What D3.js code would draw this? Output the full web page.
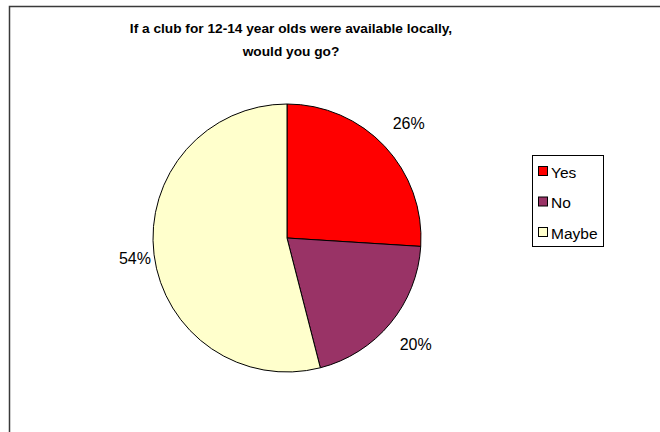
<!DOCTYPE html>
<html>
<head>
<meta charset="utf-8">
<script src="https://cdn.jsdelivr.net/npm/d3@7"></script>
<style>
  html, body { margin: 0; padding: 0; background: #fff; }
  svg { display: block; font-family: Arial, "Liberation Sans", sans-serif; }
</style>
</head>
<body>
<svg id="chart" width="660" height="432"></svg>
<script>
// Survey answers
const categories = ["Yes", "No", "Maybe"];
const percentages = [26, 20, 54];
const sliceColors = ["#FF0000", "#993366", "#FFFFCC"];
const titleLines = ["If a club for 12-14 year olds were available locally,", "would you go?"];

const svg = d3.select("#chart");

// Chart area frame
svg.append("rect")
  .attr("x", 9.5).attr("y", 6.5)
  .attr("width", 700).attr("height", 500)
  .attr("fill", "#fff")
  .attr("stroke", "#3a3a3a")
  .attr("stroke-width", 1.5);

// Title
const title = svg.append("text")
  .attr("text-anchor", "middle")
  .attr("font-weight", "bold")
  .attr("font-size", 13.7)
  .attr("fill", "#000");
titleLines.forEach((line, i) => {
  title.append("tspan").attr("x", 291).attr("y", 33 + i * 23).text(line);
});

// Pie
const cx = 287, cy = 238, radius = 134;
const color = d3.scaleOrdinal().domain(categories).range(sliceColors);
const pie = d3.pie().sort(null).value(d => d.value);
const arcs = pie(categories.map((c, i) => ({ name: c, value: percentages[i] })));
const arc = d3.arc().innerRadius(0).outerRadius(radius);

const g = svg.append("g").attr("transform", `translate(${cx},${cy})`);
g.selectAll("path")
  .data(arcs)
  .join("path")
  .attr("d", arc)
  .attr("fill", d => color(d.data.name))
  .attr("stroke", "#000")
  .attr("stroke-width", 1)
  .attr("stroke-linejoin", "round");

// Percentage labels outside the slices; a label never sits further out
// horizontally than just beyond the pie edge
const labelRadius = radius + 33;
const labels = g.selectAll("text.pct")
  .data(arcs)
  .join("text")
  .attr("class", "pct")
  .attr("text-anchor", "middle")
  .attr("dominant-baseline", "central")
  .attr("font-size", 16)
  .attr("fill", "#000")
  .text(d => d.data.value + "%");
labels.each(function(d) {
  const a = (d.startAngle + d.endAngle) / 2;
  const w = this.getComputedTextLength();
  const s = Math.sin(a), c = Math.cos(a);
  const x = Math.sign(s) * Math.min(Math.abs(s) * labelRadius, radius + 2 + w / 2);
  const y = -c * labelRadius;
  d3.select(this).attr("x", x).attr("y", y);
});

// Legend
const legend = svg.append("g").attr("transform", "translate(532,155)");
legend.append("rect")
  .attr("x", 0.5).attr("y", 0.5)
  .attr("width", 71).attr("height", 91)
  .attr("fill", "#fff")
  .attr("stroke", "#000")
  .attr("stroke-width", 1);
const rowY = d3.scalePoint().domain(categories).range([16, 77]);
const rows = legend.selectAll("g.row")
  .data(categories)
  .join("g")
  .attr("class", "row")
  .attr("transform", d => `translate(0,${rowY(d)})`);
rows.append("rect")
  .attr("x", 6.5).attr("y", -4.5)
  .attr("width", 9).attr("height", 9)
  .attr("fill", d => color(d))
  .attr("stroke", "#000")
  .attr("stroke-width", 1);
rows.append("text")
  .attr("x", 19)
  .attr("y", 1)
  .attr("dominant-baseline", "central")
  .attr("font-size", 15.5)
  .attr("fill", "#000")
  .text(d => d);
</script>
</body>
</html>
